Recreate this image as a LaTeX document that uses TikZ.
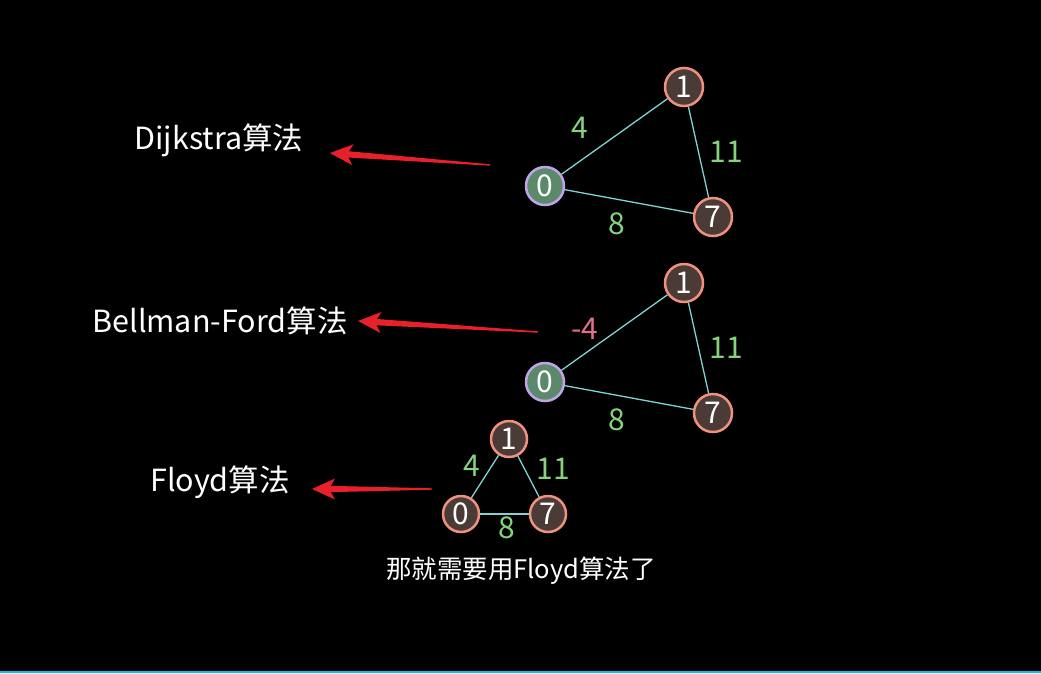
\documentclass[tikz,border=0pt]{standalone}
\usepackage{fontspec}
\setmainfont{Noto Sans CJK SC}
\usetikzlibrary{calc}
\definecolor{nodefill}{HTML}{4A3B37}
\definecolor{nodeborder}{HTML}{F0907F}
\definecolor{zerofill}{HTML}{5B8A6B}
\definecolor{zeroborder}{HTML}{C3A3E8}
\definecolor{edgecol}{HTML}{7FD3D3}
\definecolor{wgreen}{HTML}{86D37E}
\definecolor{wpink}{HTML}{E0708F}
\definecolor{arrowred}{HTML}{E8202A}
\definecolor{cyanline}{HTML}{1EB4F0}
\tikzset{
  vtx/.style={circle, draw=nodeborder, fill=nodefill, line width=2.5pt, minimum size=38pt, inner sep=0pt, text=white, font=\fontsize{30}{30}\selectfont},
  vzero/.style={vtx, draw=zeroborder, fill=zerofill},
  svtx/.style={vtx, minimum size=36pt},
  edge/.style={draw=edgecol, line width=1.3pt},
  wlab/.style={text=wgreen, font=\fontsize{30}{30}\selectfont},
  plab/.style={text=wpink, font=\fontsize{30}{30}\selectfont},
  title/.style={text=white, font=\fontsize{30.5}{30.5}\selectfont},
  redfill/.style={fill=arrowred},
}
% tapered red arrow from #1 (tail) to #2 (tip)
\newcommand\redarr[2]{%
  \coordinate (h) at ($(#2)!17pt!(#1)$);
  \coordinate (b) at ($(#2)!23pt!(#1)$);
  \fill[redfill] ($(#1)!0.7pt!90:(#2)$) -- ($(h)!3.2pt!90:(#2)$) -- ($(h)!3.2pt!-90:(#2)$) -- ($(#1)!0.7pt!-90:(#2)$) -- cycle;
  \fill[redfill] (#2) -- ($(b)!10.5pt!90:(#2)$) -- (h) -- ($(b)!10.5pt!-90:(#2)$) -- cycle;
}
\begin{document}
\begin{tikzpicture}[x=1pt,y=-1pt]
\fill[black] (0,0) rectangle (1041,673);
\useasboundingbox (0,0) rectangle (1041,673);
\fill[fill=cyanline] (0,670.5) rectangle (1041,673);

% Graph 1
\node[vtx] (a1) at (684,87) {1};
\node[vzero] (a0) at (545,186) {0};
\node[vtx] (a7) at (713,217) {7};
\draw[edge] (a0) -- (a1);
\draw[edge] (a1) -- (a7);
\draw[edge] (a0) -- (a7);
\node[wlab] (la4) at (580,128) {4};
\node[wlab] (la11) at (726,152) {11};
\node[wlab] (la8) at (617,224) {8};

% Graph 2
\node[vtx] (b1) at (684,283) {1};
\node[vzero] (b0) at (545,382) {0};
\node[vtx] (b7) at (713,413) {7};
\draw[edge] (b0) -- (b1);
\draw[edge] (b1) -- (b7);
\draw[edge] (b0) -- (b7);
\node[plab] (lb4) at (585,329) {-4};
\node[wlab] (lb11) at (726,348) {11};
\node[wlab] (lb8) at (617,420) {8};

% Graph 3
\node[svtx] (c1) at (509,439) {1};
\node[svtx] (c0) at (461,514) {0};
\node[svtx] (c7) at (548,514) {7};
\draw[edge] (c0) -- (c1);
\draw[edge] (c1) -- (c7);
\draw[edge] (c0) -- (c7);
\node[wlab] (lc4) at (472,466) {4};
\node[wlab] (lc11) at (553,469) {11};
\node[wlab] (lc8) at (507,528) {8};

% Titles
\node[title] (t1) at (219,140) {Dijkstra算法};
\node[title] (t2) at (220,321) {Bellman-Ford算法};
\node[title] (t3) at (220,482) {Floyd算法};
\node[text=white, font=\fontsize{25.5}{25.5}\selectfont] (t4) at (521,571) {那就需要用Floyd算法了};

% Arrows
\coordinate (s1) at (490,165);
\coordinate (s2) at (538,332);
\coordinate (s3) at (432,489);
\coordinate (e1) at (330,153);
\coordinate (e2) at (358,321);
\coordinate (e3) at (312,489);
\redarr{s1}{e1}
\redarr{s2}{e2}
\redarr{s3}{e3}
\end{tikzpicture}
\end{document}
